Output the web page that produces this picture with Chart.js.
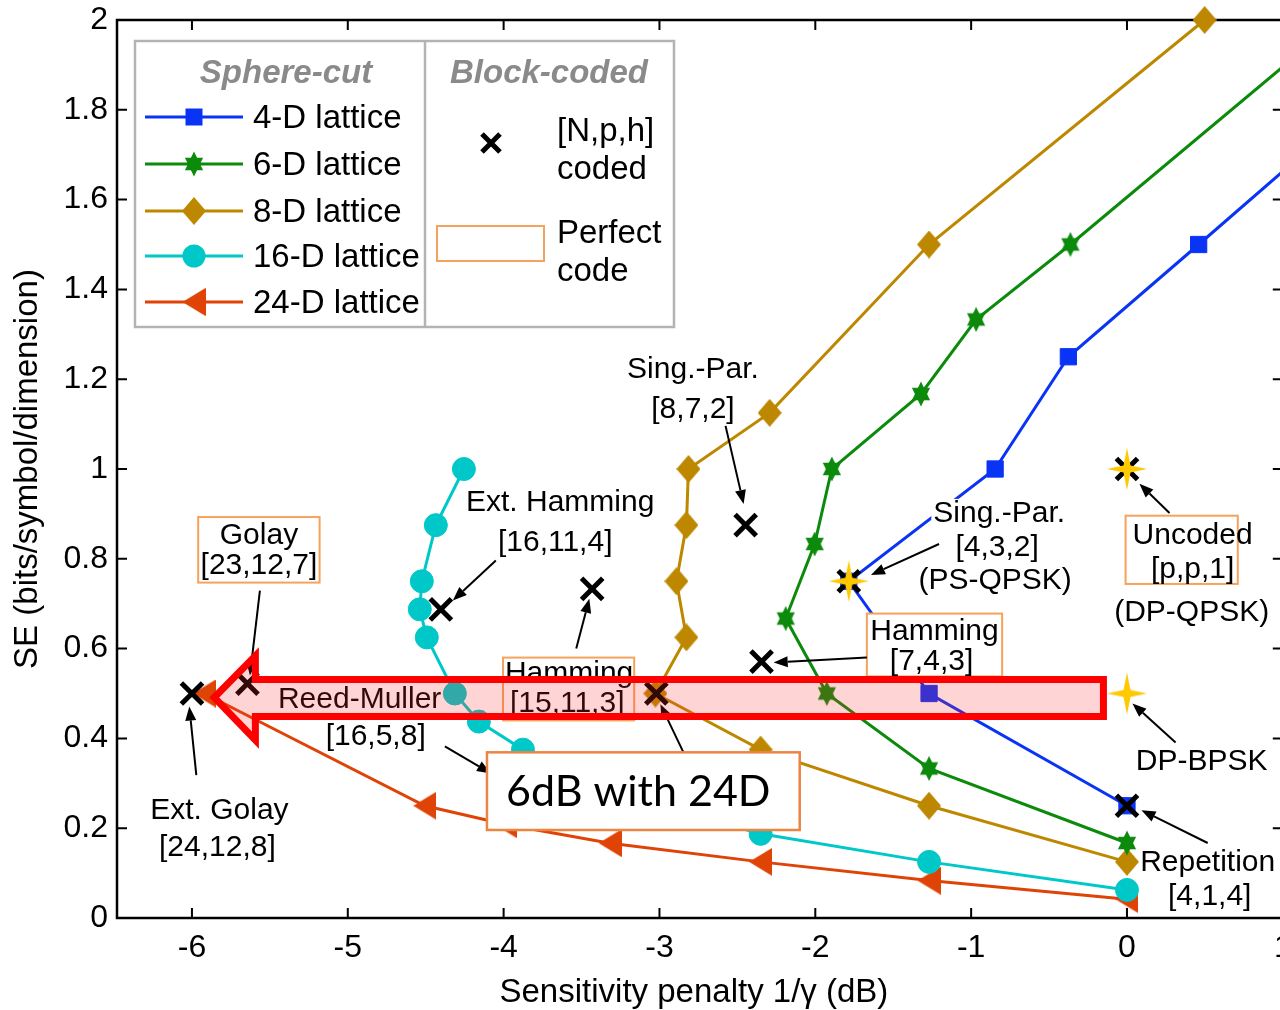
<!DOCTYPE html>
<html><head><meta charset="utf-8">
<script src="https://cdn.jsdelivr.net/npm/chart.js@4.4.1/dist/chart.umd.min.js"></script>
<style>html,body{margin:0;padding:0;background:#fff;overflow:hidden;width:1280px;height:1010px}#wrap{width:1300px;height:1010px;position:absolute;left:0;top:0}canvas{display:block}</style>
</head><body>
<div id="wrap"><canvas id="c" width="1300" height="1010" style="width:1300px;height:1010px"></canvas></div>
<script>
// ---------------- data ----------------
const xTicks = [-6, -5, -4, -3, -2, -1, 0, 1];
const xTickLabels = ['-6', '-5', '-4', '-3', '-2', '-1', '0', '1'];
const yTicks = [0, 0.2, 0.4, 0.6, 0.8, 1, 1.2, 1.4, 1.6, 1.8, 2];
const yTickLabels = ['0', '0.2', '0.4', '0.6', '0.8', '1', '1.2', '1.4', '1.6', '1.8', '2'];

const seriesNames = ['4-D lattice', '6-D lattice', '8-D lattice', '16-D lattice', '24-D lattice'];
const lat4X = [1.29, 0.46, -0.376, -0.846, -1.785, -1.27, 0];
const lat4Y = [1.75, 1.5, 1.25, 1.0, 0.75, 0.5, 0.25];
const lat6X = [1.36, -0.363, -0.968, -1.322, -1.894, -2.004, -2.19, -1.926, -1.27, 0];
const lat6Y = [2.0, 1.5, 1.333, 1.167, 1.0, 0.833, 0.667, 0.5, 0.333, 0.167];
const lat8X = [0.498, -1.27, -2.293, -2.814, -2.827, -2.891, -2.827, -3.026, -2.351, -1.27, 0];
const lat8Y = [2.0, 1.5, 1.125, 1.0, 0.875, 0.75, 0.625, 0.5, 0.375, 0.25, 0.125];
const lat16X = [-4.255, -4.435, -4.525, -4.538, -4.493, -4.313, -4.159, -3.876, -3.5, -3.0, -2.351, -1.27, 0];
const lat16Y = [1.0, 0.875, 0.75, 0.6875, 0.625, 0.5, 0.4375, 0.375, 0.3125, 0.25, 0.1875, 0.125, 0.0625];
const lat24X = [-5.921, -4.506, -3.985, -3.316, -2.351, -1.27, 0];
const lat24Y = [0.5, 0.25, 0.2083, 0.1667, 0.125, 0.0833, 0.0417];

// block-coded [N,p,h] points
const codeX = [-6.0, -5.644, -4.403, -3.432, -2.447, -3.02, -3.99, -2.345, -1.785, 0, 0];
const codeY = [0.5, 0.522, 0.6875, 0.733, 0.875, 0.5, 0.3125, 0.571, 0.75, 1.0, 0.25];
// highlighted (yellow star) formats
const starX = [-1.785, 0, 0];
const starY = [0.75, 1.0, 0.5];

// ---------------- styles ----------------
const FONT = '"Liberation Sans", Arial, Helvetica, sans-serif';
const C4 = '#0a34f5', C6 = '#0b8a0b', C8 = '#bd8700', C16 = '#00c8c8', C24 = '#e04306';
const ORANGE = '#f5a35a';

function mk(w, h, draw) { const c = document.createElement('canvas'); c.width = w; c.height = h; draw(c.getContext('2d'), w, h); return c; }
const hexagram = mk(22, 26, (g, w, h) => {
  g.fillStyle = C6; const cx = w / 2, cy = h / 2, rx = 10.5, ry = 12.5;
  for (const off of [-90, 90]) {
    g.beginPath();
    for (let k = 0; k < 3; k++) { const a = (off + k * 120) * Math.PI / 180; const px = cx + rx * Math.cos(a), py = cy + ry * Math.sin(a); k ? g.lineTo(px, py) : g.moveTo(px, py); }
    g.closePath(); g.fill();
  }
});
const diamond = mk(24, 28, (g, w, h) => { g.fillStyle = C8; g.beginPath(); g.moveTo(w / 2, 0); g.lineTo(w, h / 2); g.lineTo(w / 2, h); g.lineTo(0, h / 2); g.closePath(); g.fill(); });
const triLeft = mk(23, 28, (g, w, h) => { g.fillStyle = C24; g.beginPath(); g.moveTo(0, h / 2); g.lineTo(w, 0); g.lineTo(w, h); g.closePath(); g.fill(); });
const star4 = mk(40, 42, (g, w, h) => {
  g.fillStyle = '#ffc800'; const cx = w / 2, cy = h / 2, i = 3.5;
  g.beginPath(); g.moveTo(cx, 0); g.lineTo(cx + i, cy - i); g.lineTo(w, cy); g.lineTo(cx + i, cy + i); g.lineTo(cx, h); g.lineTo(cx - i, cy + i); g.lineTo(0, cy); g.lineTo(cx - i, cy - i); g.closePath(); g.fill();
});

const pts = (xs, ys) => xs.map((v, i) => ({ x: v, y: ys[i] }));
const latticeDs = (label, xs, ys, color, style, radius, order) => ({
  label, data: pts(xs, ys), showLine: true, borderColor: color, backgroundColor: color, borderWidth: 3,
  pointStyle: style, pointRadius: radius, pointBackgroundColor: color, pointBorderColor: color, pointBorderWidth: 1,
  clip: false, order
});

// ---------------- annotations (data coordinates) ----------------
const texts = [
  { t: 'Sing.-Par.', x: -2.785, y: 1.22 }, { t: '[8,7,2]', x: -2.785, y: 1.133 },
  { t: 'Ext. Hamming', x: -3.637, y: 0.924 }, { t: '[16,11,4]', x: -3.669, y: 0.836 },
  { t: 'Sing.-Par.', x: -0.82, y: 0.9, bg: true }, { t: '[4,3,2]', x: -0.833, y: 0.824, bg: true }, { t: '(PS-QPSK)', x: -0.846, y: 0.751, bg: true },
  { t: '(DP-QPSK)', x: 0.415, y: 0.68 },
  { t: 'DP-BPSK', x: 0.479, y: 0.347 },
  { t: 'Repetition', x: 0.518, y: 0.124 }, { t: '[4,1,4]', x: 0.531, y: 0.047 },
  { t: 'Ext. Golay', x: -5.824, y: 0.238 }, { t: '[24,12,8]', x: -5.837, y: 0.156 },
  { t: 'Reed-Muller', x: -4.924, y: 0.487 }, { t: '[16,5,8]', x: -4.821, y: 0.404 }
];
const boxes = [
  { x1: -5.96, y1: 0.893, x2: -5.181, y2: 0.747, lines: [['Golay', -5.57, 0.851], ['[23,12,7]', -5.57, 0.784]] },
  { x1: -4.004, y1: 0.58, x2: -3.162, y2: 0.44, lines: [['Hamming', -3.58, 0.544], ['[15,11,3]', -3.592, 0.478]] },
  { x1: -1.669, y1: 0.678, x2: -0.801, y2: 0.538, lines: [['Hamming', -1.235, 0.638], ['[7,4,3]', -1.254, 0.571]] },
  { x1: -0.009, y1: 0.896, x2: 0.711, y2: 0.744, lines: [['Uncoded', 0.421, 0.851], ['[p,p,1]', 0.421, 0.776]] }
];
const arrows = [
  [-2.576, 1.096, -2.46, 0.922],
  [-4.05, 0.796, -4.326, 0.707],
  [-5.564, 0.729, -5.628, 0.54],
  [-3.534, 0.6, -3.45, 0.711],
  [-1.669, 0.58, -2.267, 0.569],
  [-1.206, 0.833, -1.643, 0.764],
  [0.273, 0.902, 0.08, 0.967],
  [0.312, 0.391, 0.035, 0.478],
  [0.518, 0.167, 0.093, 0.24],
  [-5.972, 0.318, -6.017, 0.471],
  [-4.377, 0.382, -4.081, 0.322],
  [-2.846, 0.369, -2.994, 0.476]
];
const bigArrow = [[-5.857, 0.491], [-5.593, 0.584], [-5.593, 0.531], [-0.151, 0.531], [-0.151, 0.449], [-5.593, 0.449], [-5.593, 0.396]];
const noteBox = { x1: -4.107, y1: 0.369, x2: -2.1, y2: 0.196, text: '6dB with 24D', tx: -3.136, ty: 0.28 };

function arrow(ctx, x0, y0, x1, y1) {
  const a = Math.atan2(y1 - y0, x1 - x0), L = 14, W = 5.5;
  const bx = x1 - L * Math.cos(a), by = y1 - L * Math.sin(a);
  ctx.beginPath(); ctx.moveTo(x0, y0); ctx.lineTo(bx, by); ctx.stroke();
  ctx.beginPath(); ctx.moveTo(x1, y1);
  ctx.lineTo(bx + W * Math.sin(a), by - W * Math.cos(a));
  ctx.lineTo(bx - W * Math.sin(a), by + W * Math.cos(a)); ctx.closePath(); ctx.fill();
}

const framePlugin = {
  id: 'frame',
  beforeDatasetsDraw(chart) {
    const { ctx, chartArea: a, scales: { x, y } } = chart;
    const R = x.getPixelForValue(xTicks[xTicks.length - 1]);
    ctx.save(); ctx.strokeStyle = '#000'; ctx.lineWidth = 2;
    ctx.beginPath();
    for (const v of xTicks) { const p = x.getPixelForValue(v); ctx.moveTo(p, a.bottom); ctx.lineTo(p, a.bottom - 10); ctx.moveTo(p, a.top); ctx.lineTo(p, a.top + 10); }
    for (const v of yTicks) { const p = y.getPixelForValue(v); ctx.moveTo(a.left, p); ctx.lineTo(a.left + 10, p); ctx.moveTo(R, p); ctx.lineTo(R - 10, p); }
    ctx.stroke();
    ctx.lineWidth = 2.5; ctx.strokeRect(a.left, a.top, R - a.left, a.bottom - a.top);
    ctx.restore();
  }
};

const annotPlugin = {
  id: 'annot',
  afterDatasetsDraw(chart) {
    const { ctx, scales: { x, y } } = chart;
    const X = v => x.getPixelForValue(v), Y = v => y.getPixelForValue(v);
    ctx.save();
    ctx.font = '30px ' + FONT; ctx.textAlign = 'center'; ctx.textBaseline = 'middle';
    for (const t of texts) {
      if (t.bg) { const w = ctx.measureText(t.t).width; ctx.fillStyle = '#fff'; ctx.fillRect(X(t.x) - w / 2 - 2, Y(t.y) - 15, w + 4, 32); }
    }
    ctx.fillStyle = '#000';
    for (const t of texts) ctx.fillText(t.t, X(t.x), Y(t.y));
    for (const b of boxes) {
      const l = X(b.x1), r = X(b.x2), t = Y(b.y1), bt = Y(b.y2);
      ctx.fillStyle = '#fff'; ctx.fillRect(l, t, r - l, bt - t);
      ctx.strokeStyle = ORANGE; ctx.lineWidth = 2; ctx.strokeRect(l, t, r - l, bt - t);
      ctx.fillStyle = '#000';
      for (const [s, lx, ly] of b.lines) ctx.fillText(s, X(lx), Y(ly));
    }
    ctx.strokeStyle = '#000'; ctx.fillStyle = '#000'; ctx.lineWidth = 2;
    for (const [a0, b0, a1, b1] of arrows) arrow(ctx, X(a0), Y(b0), X(a1), Y(b1));
    ctx.beginPath();
    bigArrow.forEach(([px, py], i) => i ? ctx.lineTo(X(px), Y(py)) : ctx.moveTo(X(px), Y(py)));
    ctx.closePath();
    ctx.fillStyle = 'rgba(255,40,40,0.2)'; ctx.fill();
    ctx.strokeStyle = '#ff0000'; ctx.lineWidth = 7; ctx.lineJoin = 'miter'; ctx.stroke();
    {
      const l = X(noteBox.x1), r = X(noteBox.x2), t = Y(noteBox.y1), bt = Y(noteBox.y2);
      ctx.fillStyle = '#fff'; ctx.fillRect(l, t, r - l, bt - t);
      ctx.strokeStyle = '#ec8540'; ctx.lineWidth = 2.5; ctx.strokeRect(l, t, r - l, bt - t);
      ctx.fillStyle = '#000'; ctx.font = '43px Lato, "Open Sans", sans-serif';
      ctx.fillText(noteBox.text, X(noteBox.tx), Y(noteBox.ty));
    }
    // legend
    const L = { l: 135, t: 41, r: 674, b: 327, div: 425 };
    ctx.fillStyle = '#fff'; ctx.fillRect(L.l, L.t, L.r - L.l, L.b - L.t);
    ctx.strokeStyle = '#b3b3b3'; ctx.lineWidth = 2.5; ctx.strokeRect(L.l, L.t, L.r - L.l, L.b - L.t);
    ctx.beginPath(); ctx.moveTo(L.div, L.t); ctx.lineTo(L.div, L.b); ctx.stroke();
    ctx.font = 'italic bold 33px ' + FONT; ctx.fillStyle = '#8a8a8a'; ctx.textAlign = 'center';
    ctx.fillText('Sphere-cut', 286, 74); ctx.fillText('Block-coded', 549, 74);
    const rows = [117, 164, 211, 256, 302];
    const cols = [C4, C6, C8, C16, C24];
    ctx.font = '33px ' + FONT; ctx.textAlign = 'left';
    rows.forEach((ry, i) => {
      ctx.strokeStyle = cols[i]; ctx.lineWidth = 3; ctx.beginPath(); ctx.moveTo(145, ry); ctx.lineTo(243, ry); ctx.stroke();
      ctx.fillStyle = cols[i];
      if (i === 0) ctx.fillRect(194 - 8.5, ry - 8.5, 17, 17);
      else if (i === 3) { ctx.beginPath(); ctx.arc(194, ry, 11.5, 0, Math.PI * 2); ctx.fill(); }
      else { const im = [null, hexagram, diamond, null, triLeft][i]; ctx.drawImage(im, 194 - im.width / 2, ry - im.height / 2); }
      ctx.fillStyle = '#000'; ctx.fillText(seriesNames[i], 253, ry + 2);
    });
    ctx.strokeStyle = '#000'; ctx.lineWidth = 5; ctx.beginPath();
    ctx.moveTo(482, 134); ctx.lineTo(500, 152); ctx.moveTo(500, 134); ctx.lineTo(482, 152); ctx.stroke();
    ctx.fillText('[N,p,h]', 557, 132); ctx.fillText('coded', 557, 170);
    ctx.strokeStyle = ORANGE; ctx.lineWidth = 2; ctx.strokeRect(437, 226, 107, 35);
    ctx.fillText('Perfect', 557, 234); ctx.fillText('code', 557, 272);
    ctx.restore();
  }
};

const tickFont = { family: FONT, size: 32 };
new Chart(document.getElementById('c'), {
  type: 'scatter',
  data: {
    datasets: [
      { label: 'stars', data: pts(starX, starY), pointStyle: star4, showLine: false, clip: false, order: 0 },
      { label: '[N,p,h] coded', data: pts(codeX, codeY), pointStyle: 'crossRot', pointRadius: 15, pointBorderWidth: 5, pointBorderColor: '#000', pointBackgroundColor: '#000', showLine: false, clip: false, order: 1 },
      latticeDs(seriesNames[0], lat4X, lat4Y, C4, 'rect', 11.5, 2),
      latticeDs(seriesNames[1], lat6X, lat6Y, C6, hexagram, 11, 3),
      latticeDs(seriesNames[2], lat8X, lat8Y, C8, diamond, 12, 4),
      latticeDs(seriesNames[3], lat16X, lat16Y, C16, 'circle', 11.5, 5),
      latticeDs(seriesNames[4], lat24X, lat24Y, C24, triLeft, 12, 6)
    ]
  },
  options: {
    responsive: false, animation: false, devicePixelRatio: 1,
    layout: { padding: { top: 18, right: 17, left: 0, bottom: 0 } },
    plugins: { legend: { display: false }, tooltip: { enabled: false } },
    elements: { line: { tension: 0 } },
    scales: {
      x: {
        type: 'linear', min: -6.481, max: 0.982,
        afterBuildTicks: s => { s.ticks = xTicks.map(v => ({ value: v })); },
        afterFit: s => { s.height = 92; s.paddingLeft = 0; s.paddingRight = 0; },
        grid: { display: false, drawTicks: false }, border: { display: false },
        ticks: { font: tickFont, color: '#000', padding: 11, maxRotation: 0, autoSkip: false, callback: (v, i) => xTickLabels[i] },
        title: { display: true, text: 'Sensitivity penalty 1/γ (dB)\u00a0', color: '#000', font: { family: FONT, size: 33, lineHeight: 1 }, padding: { top: 0, bottom: 1 } }
      },
      y: {
        type: 'linear', min: 0, max: 2,
        afterBuildTicks: s => { s.ticks = yTicks.map(v => ({ value: v })); },
        afterFit: s => { s.width = 117; s.paddingTop = 0; s.paddingBottom = 0; },
        grid: { display: false, drawTicks: false }, border: { display: false },
        ticks: { font: tickFont, color: '#000', padding: 9, autoSkip: false, callback: (v, i) => yTickLabels[i] },
        title: { display: true, text: 'SE (bits/symbol/dimension)', color: '#000', font: { family: FONT, size: 33, lineHeight: 1 }, padding: { top: 11, bottom: 0 } }
      }
    }
  },
  plugins: [framePlugin, annotPlugin]
});
</script>
</body></html>
